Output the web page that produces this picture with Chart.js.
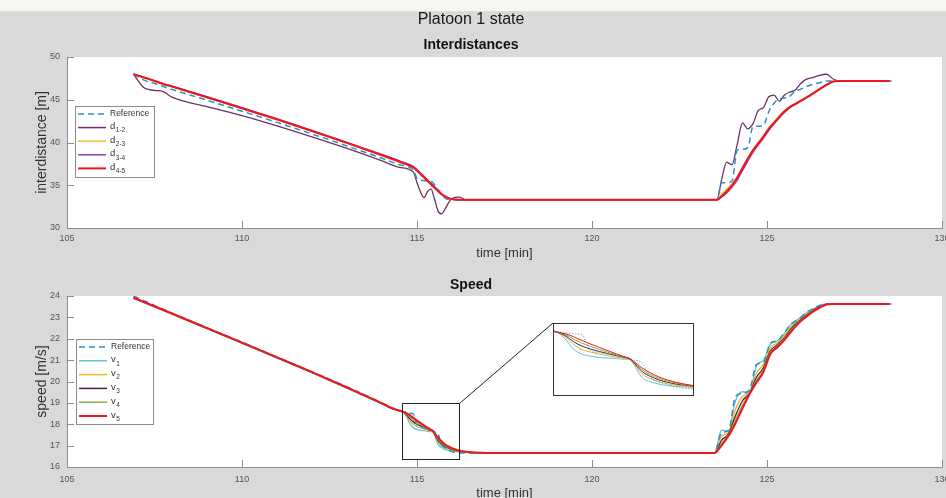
<!DOCTYPE html>
<html>
<head>
<meta charset="utf-8">
<title>Platoon 1 state</title>
<script src="https://cdn.jsdelivr.net/npm/chart.js@4.4.1/dist/chart.umd.min.js"></script>
<style>
  html, body { margin: 0; padding: 0; }
  body { width: 946px; height: 498px; overflow: hidden; position: relative; background: #f5f5f3; }
  #figure { position: absolute; left: 0; top: 11px; width: 946px; height: 487px; background: #d9d9d9; border-top: 1px solid #dfe2d0; }
  .box { position: absolute; left: 0; }
  #distBox { top: 0; }
  #speedBox { top: 262px; }
  #insetBox { position: absolute; left: 553px; top: 323px; width: 139px; height: 71px; border: 1px solid #333; background: #fff; }
</style>
</head>
<body>
<div id="figure"></div>
<div class="box" id="distBox"><canvas id="distChart" width="980" height="262"></canvas></div>
<div class="box" id="speedBox"><canvas id="speedChart" width="980" height="246"></canvas></div>
<div id="insetBox"><canvas id="insetChart" width="139" height="71"></canvas></div>
<script>
// time axis (minutes) shared by both plots
const xTicks = [105, 110, 115, 120, 125, 130];
const distTicks = [30, 35, 40, 45, 50];
const speedTicks = [16, 17, 18, 19, 20, 21, 22, 23, 24];

// interdistances [m]
const timeD = [106.9, 107.2, 107.5, 107.75, 108, 109, 110, 111, 112, 113, 114, 114.5, 114.9, 115.0, 115.1, 115.2, 115.3, 115.4, 115.5, 115.6, 115.7, 115.8, 115.9, 116.0, 116.2, 116.4,
  123.57, 123.7, 123.85, 124.0, 124.15, 124.3, 124.45, 124.6, 124.75, 124.9, 125.05, 125.2, 125.35, 125.5, 125.65, 125.8, 125.95, 126.1, 126.3, 126.5, 126.7, 126.9, 127.1, 128.5, 128.6];
const refD = [48.0, 47.3, 46.9, 46.55, 46.2, 44.95, 43.65, 42.35, 41.0, 39.6, 38.15, 37.4, 36.75, 35.8, 35.6, 35.55, 35.5, 35.45, 35.1, 34.5, 33.95, 33.5, 33.35, 33.3, 33.3, 33.3,
  33.3, 35.3, 35.3, 35.5, 39.1, 39.2, 39.4, 41.85, 41.9, 42.0, 43.6, 44.6, 45.1, 45.2, 45.4, 46.0, 46.2, 46.5, 46.8, 47.0, 47.2, 47.2, 47.2, 47.2, 47.2];
const d12 = [48.0, 46.4, 46.1, 45.95, 45.3, 44.2, 43.15, 41.95, 40.65, 39.3, 37.85, 37.1, 36.5, 35.3, 34.2, 33.55, 34.25, 34.55, 33.4, 32.0, 31.65, 32.2, 32.95, 33.45, 33.6, 33.3,
  33.3, 35.6, 37.7, 37.4, 39.8, 42.3, 41.6, 42.2, 43.75, 44.1, 45.35, 45.55, 44.85, 45.55, 45.9, 46.1, 46.85, 47.35, 47.6, 47.85, 47.98, 47.4, 47.2, 47.2, null];
const d23 = [48.0, 47.55, 47.15, 46.8, 46.5, 45.25, 43.95, 42.65, 41.3, 39.9, 38.45, 37.7, 37.05, 36.65, 36.25, 35.85, 35.45, 35.05, 34.65, 34.25, 33.9, 33.65, 33.48, 33.36, 33.3, 33.3,
  33.3, 33.9, 34.6, 35.2, 36.0, 37.1, 38.2, 39.2, 40.0, 40.8, 41.7, 42.4, 43.1, 43.7, 44.2, 44.55, 44.9, 45.25, 45.75, 46.3, 46.8, 47.17, 47.2, 47.2, null];
const d34 = [48.0, 47.65, 47.25, 46.9, 46.6, 45.38, 44.08, 42.78, 41.43, 40.03, 38.6, 37.85, 37.2, 36.85, 36.45, 36.05, 35.65, 35.25, 34.85, 34.42, 34.02, 33.74, 33.52, 33.38, 33.3, 33.3,
  33.3, 33.6, 34.1, 34.75, 35.6, 36.7, 37.8, 38.85, 39.7, 40.5, 41.4, 42.15, 42.85, 43.5, 44.05, 44.42, 44.8, 45.15, 45.65, 46.2, 46.7, 47.12, 47.2, 47.2, null];
const d45 = [48.0, 47.6, 47.2, 46.85, 46.55, 45.3, 44.0, 42.7, 41.35, 39.95, 38.5, 37.75, 37.1, 36.72, 36.32, 35.92, 35.52, 35.12, 34.72, 34.32, 33.95, 33.7, 33.5, 33.38, 33.3, 33.3,
  33.3, 33.7, 34.3, 35.0, 35.9, 37.0, 38.1, 39.1, 39.9, 40.7, 41.6, 42.3, 43.0, 43.65, 44.15, 44.5, 44.85, 45.2, 45.7, 46.25, 46.75, 47.15, 47.2, 47.2, null];
const distNames = ['Reference', 'd1-2', 'd2-3', 'd3-4', 'd4-5'];

// speed [m/s]
const timeV = [106.9, 108, 109, 110, 111, 112, 113, 114, 114.3,
  114.6, 114.7, 114.8, 114.9, 115.0, 115.1, 115.2, 115.3, 115.4, 115.45, 115.5, 115.6, 115.7, 115.8, 115.9, 116.0, 116.1, 116.2, 116.4, 117,
  123.5, 123.7, 123.9, 124.1, 124.3, 124.5, 124.7, 124.9, 125.1, 125.3, 125.5, 125.7, 125.9, 126.1, 126.3, 126.5, 126.7, 126.9, 127.2, 128.5, 128.6];
const refV = [24.0, 23.2, 22.52, 21.84, 21.15, 20.46, 19.75, 19.0, 18.76,
  18.6, 18.56, 18.52, 18.48, 17.95, 17.88, 17.83, 17.78, 17.74, 17.7, 17.64, 17.55, 17.05, 16.9, 16.8, 16.72, 16.68, 16.66, 16.65, 16.65,
  16.65, 17.6, 17.7, 19.3, 19.45, 19.6, 20.8, 20.9, 21.8, 21.9, 22.3, 22.7, 22.9, 23.2, 23.4, 23.55, 23.63, 23.63, 23.63, 23.63, 23.63];
const v1 = [23.9, 23.15, 22.47, 21.79, 21.1, 20.41, 19.69, 18.95, 18.72,
  18.58, 18.35, 18.0, 17.83, 17.76, 17.72, 17.7, 17.68, 17.66, 17.66, 17.5, 17.05, 16.9, 16.82, 16.77, 16.74, 16.72, 16.71, 16.68, 16.66,
  16.65, 17.72, 17.68, 19.1, 19.52, 19.5, 20.75, 21.0, 21.75, 21.9, 22.25, 22.72, 22.92, 23.18, 23.38, 23.55, 23.63, 23.64, 23.63, 23.63, null];
const v2 = [23.9, 23.16, 22.48, 21.8, 21.11, 20.42, 19.7, 18.96, 18.73,
  18.58, 18.42, 18.15, 17.98, 17.9, 17.83, 17.78, 17.73, 17.69, 17.67, 17.54, 17.17, 17.0, 16.9, 16.83, 16.78, 16.75, 16.73, 16.69, 16.66,
  16.65, 17.45, 17.6, 18.7, 19.3, 19.5, 20.4, 20.8, 21.6, 21.8, 22.15, 22.6, 22.85, 23.12, 23.33, 23.52, 23.62, 23.63, 23.63, 23.63, null];
const v3 = [23.91, 23.17, 22.49, 21.81, 21.12, 20.43, 19.71, 18.97, 18.73,
  18.58, 18.46, 18.25, 18.1, 18.0, 17.92, 17.85, 17.78, 17.72, 17.68, 17.56, 17.25, 17.08, 16.96, 16.88, 16.82, 16.78, 16.75, 16.7, 16.66,
  16.65, 17.25, 17.55, 18.4, 19.1, 19.45, 20.2, 20.65, 21.45, 21.72, 22.05, 22.5, 22.8, 23.08, 23.3, 23.5, 23.61, 23.63, 23.63, 23.63, null];
const v4 = [23.91, 23.17, 22.49, 21.81, 21.12, 20.43, 19.71, 18.97, 18.74,
  18.58, 18.5, 18.34, 18.2, 18.09, 17.99, 17.9, 17.81, 17.73, 17.69, 17.58, 17.31, 17.14, 17.01, 16.92, 16.85, 16.8, 16.76, 16.7, 16.66,
  16.65, 17.1, 17.5, 18.2, 18.9, 19.42, 20.05, 20.55, 21.38, 21.65, 22.0, 22.42, 22.76, 23.04, 23.27, 23.47, 23.6, 23.63, 23.63, 23.63, null];
const v5 = [23.92, 23.18, 22.5, 21.82, 21.13, 20.44, 19.72, 18.98, 18.74,
  18.58, 18.52, 18.42, 18.29, 18.17, 18.06, 17.95, 17.84, 17.74, 17.69, 17.6, 17.37, 17.2, 17.06, 16.96, 16.88, 16.82, 16.77, 16.71, 16.66,
  16.65, 17.0, 17.45, 18.05, 18.75, 19.4, 19.95, 20.45, 21.3, 21.6, 21.95, 22.35, 22.72, 23.0, 23.25, 23.45, 23.6, 23.63, 23.63, 23.63, null];
const speedNames = ['Reference', 'v1', 'v2', 'v3', 'v4', 'v5'];

// magnified window shown in the inset
const zoomT = [114.57, 116.2];
const zoomV = [16.37, 19.0];
const insetV = [16.45, 18.85];

Chart.defaults.font.family = '"Liberation Sans", Arial, sans-serif';
Chart.defaults.animation = false;

const pts = (t, ys) => t.map((x, i) => ({ x, y: ys[i] }));

const line = (label, data, color, width, dash, order) => ({
  label, data,
  borderColor: color,
  borderWidth: width,
  borderDash: dash,
  pointRadius: 0,
  cubicInterpolationMode: 'monotone',
  fill: false,
  order,
});

// white plot box like the matlab axes
const plotBackground = {
  id: 'plotBackground',
  beforeDraw(chart) {
    const { ctx, chartArea: a } = chart;
    ctx.save();
    ctx.fillStyle = '#fff';
    ctx.fillRect(a.left, a.top, a.right - a.left, a.bottom - a.top);
    ctx.restore();
  },
};

// short tick marks pointing into the plot
const innerTicks = {
  id: 'innerTicks',
  afterDatasetsDraw(chart, args, opts) {
    if (!opts.len) return;
    const { ctx, chartArea: a, scales: { x, y } } = chart;
    ctx.save();
    ctx.strokeStyle = '#8a8a8a';
    ctx.lineWidth = 1;
    ctx.beginPath();
    x.ticks.forEach(t => {
      const px = Math.round(x.getPixelForValue(t.value)) + 0.5;
      ctx.moveTo(px, a.bottom);
      ctx.lineTo(px, a.bottom - opts.len);
    });
    y.ticks.forEach(t => {
      const py = Math.round(y.getPixelForValue(t.value)) + 0.5;
      ctx.moveTo(a.left, py);
      ctx.lineTo(a.left + opts.len, py);
    });
    ctx.stroke();
    ctx.restore();
  },
};

// matlab style legend box, with subscripts
const boxLegend = {
  id: 'boxLegend',
  afterDatasetsDraw(chart, args, opts) {
    if (!opts.names) return;
    const { ctx, chartArea: a } = chart;
    const x = a.left + opts.dx, y = a.top + opts.dy;
    ctx.save();
    ctx.fillStyle = '#fff';
    ctx.fillRect(x, y, opts.w, opts.h);
    ctx.strokeStyle = '#8c8c8c';
    ctx.lineWidth = 1;
    ctx.strokeRect(x + 0.5, y + 0.5, opts.w, opts.h);
    opts.names.forEach((name, i) => {
      const ds = chart.data.datasets[i];
      const ry = y + opts.first + i * opts.step;
      ctx.beginPath();
      ctx.setLineDash(ds.borderDash);
      ctx.strokeStyle = ds.borderColor;
      ctx.lineWidth = Math.max(ds.borderWidth, 1.5);
      ctx.moveTo(x + 3, ry);
      ctx.lineTo(x + 31, ry);
      ctx.stroke();
      ctx.setLineDash([]);
      ctx.fillStyle = '#333';
      ctx.textAlign = 'left';
      ctx.textBaseline = 'middle';
      const tx = x + 35;
      if (name === 'Reference') {
        ctx.font = '8.5px "Liberation Sans", Arial, sans-serif';
        ctx.fillText(name, tx, ry);
      } else {
        ctx.font = '9.5px "Liberation Sans", Arial, sans-serif';
        ctx.fillText(name[0], tx, ry - 1);
        const w = ctx.measureText(name[0]).width;
        ctx.font = '6.5px "Liberation Sans", Arial, sans-serif';
        ctx.fillText(name.slice(1), tx + w + 0.5, ry + 3);
      }
    });
    ctx.restore();
  },
};

// rectangle around the magnified part and the line to the inset
const zoomFrame = {
  id: 'zoomFrame',
  afterDatasetsDraw(chart, args, opts) {
    if (!opts.target) return;
    const { ctx, scales: { x, y } } = chart;
    const l = Math.round(x.getPixelForValue(zoomT[0])) + 0.5;
    const r = Math.round(x.getPixelForValue(zoomT[1])) + 0.5;
    const t = Math.round(y.getPixelForValue(zoomV[1])) + 0.5;
    const b = Math.round(y.getPixelForValue(zoomV[0])) + 0.5;
    ctx.save();
    ctx.strokeStyle = '#222';
    ctx.lineWidth = 1;
    ctx.strokeRect(l, t, r - l, b - t);
    ctx.beginPath();
    ctx.moveTo(r, t);
    ctx.lineTo(opts.target.x, opts.target.y);
    ctx.stroke();
    ctx.restore();
  },
};

Chart.register(plotBackground, innerTicks, boxLegend, zoomFrame);

function axes(yTicks, yTitle, xTickPad, xHeight, xTitlePad) {
  return {
    x: {
      type: 'linear',
      min: 105,
      max: 130,
      afterBuildTicks: s => { s.ticks = xTicks.map(v => ({ value: v })); },
      afterFit: s => { s.height = xHeight; },
      grid: { display: false, drawTicks: false },
      border: { display: true, color: '#8f8f8f' },
      ticks: { padding: xTickPad, color: '#555', font: { size: 9 }, maxRotation: 0, autoSkip: false },
      title: { display: true, text: 'time [min]', color: '#333', font: { size: 13 }, padding: { top: 0, bottom: xTitlePad } },
    },
    y: {
      type: 'linear',
      min: yTicks[0],
      max: yTicks[yTicks.length - 1],
      afterBuildTicks: s => { s.ticks = yTicks.map(v => ({ value: v })); },
      afterFit: s => { s.width = 67; },
      grid: { display: false, drawTicks: false },
      border: { display: true, color: '#8f8f8f' },
      ticks: { padding: 7, color: '#555', font: { size: 9 } },
      title: { display: true, text: yTitle, color: '#333', font: { size: 14 }, padding: { top: 34, bottom: 0 } },
    },
  };
}

const distChart = new Chart(document.getElementById('distChart'), {
  type: 'line',
  data: {
    datasets: [
      line(distNames[0], pts(timeD, refD), '#2c8fc6', 1.5, [6, 4], 1),
      line(distNames[1], pts(timeD, d12), '#6e3163', 1.3, [], 4),
      line(distNames[2], pts(timeD, d23), '#f2c12e', 1.3, [], 3),
      line(distNames[3], pts(timeD, d34), '#8e3fae', 1.3, [], 2),
      line(distNames[4], pts(timeD, d45), '#f0141e', 2, [], 0),
    ],
  },
  options: {
    responsive: false,
    layout: { padding: { left: 0, right: 38, top: 0, bottom: 0 } },
    scales: axes(distTicks, 'interdistance [m]', 5, 34, 1.2),
    plugins: {
      title: { display: true, text: 'Platoon 1 state', color: '#1a1a1a', font: { size: 16, weight: 'normal' }, padding: { top: 10.4, bottom: 7 } },
      subtitle: { display: true, text: 'Interdistances', color: '#111', font: { size: 14, weight: 'bold' }, padding: { top: 0, bottom: 3.6 } },
      legend: { display: false },
      tooltip: { enabled: false },
      innerTicks: { len: 7 },
      boxLegend: { names: distNames, dx: 8, dy: 49, w: 79, h: 71, first: 8, step: 13.6 },
      zoomFrame: {},
    },
  },
});

const speedSets = () => [
  line(speedNames[0], pts(timeV, refV), '#2c8fc6', 1.5, [6, 4], 1),
  line(speedNames[1], pts(timeV, v1), '#5ec3e3', 1.3, [], 5),
  line(speedNames[2], pts(timeV, v2), '#f0b323', 1.3, [], 4),
  line(speedNames[3], pts(timeV, v3), '#4b1f48', 1.3, [], 3),
  line(speedNames[4], pts(timeV, v4), '#7fb23a', 1.3, [], 2),
  line(speedNames[5], pts(timeV, v5), '#f0141e', 2, [], 0),
];

const speedChart = new Chart(document.getElementById('speedChart'), {
  type: 'line',
  data: { datasets: speedSets() },
  options: {
    responsive: false,
    layout: { padding: { left: 0, right: 38, top: 0, bottom: 0 } },
    scales: axes(speedTicks, 'speed [m/s]', 7, 41, 7.2),
    plugins: {
      title: { display: true, text: 'Speed', color: '#111', font: { size: 14, weight: 'bold' }, padding: { top: 14.6, bottom: 2.6 } },
      legend: { display: false },
      tooltip: { enabled: false },
      innerTicks: { len: 7 },
      boxLegend: { names: speedNames, dx: 9, dy: 43, w: 77, h: 85, first: 8, step: 13.8 },
      zoomFrame: { target: { x: 553, y: 61 } },
    },
  },
});

// inset: same speed series, magnified
const insetSets = speedSets().map(ds => ({
  ...ds,
  borderWidth: 1,
  borderDash: ds.label === 'Reference' ? [1, 2] : [],
}));

const insetChart = new Chart(document.getElementById('insetChart'), {
  type: 'line',
  data: { datasets: insetSets },
  options: {
    responsive: false,
    layout: { padding: 0 },
    scales: {
      x: { type: 'linear', display: false, min: zoomT[0], max: zoomT[1] },
      y: { type: 'linear', display: false, min: insetV[0], max: insetV[1] },
    },
    plugins: {
      legend: { display: false },
      tooltip: { enabled: false },
      innerTicks: { len: 0 },
      boxLegend: {},
      zoomFrame: {},
    },
  },
});
</script>
</body>
</html>
